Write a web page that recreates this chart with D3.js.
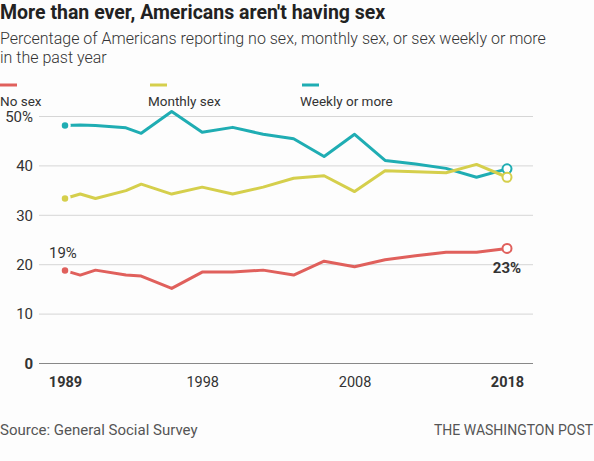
<!DOCTYPE html>
<html>
<head>
<meta charset="utf-8">
<script src="https://cdn.jsdelivr.net/npm/d3@7/dist/d3.min.js"></script>
<style>
  html, body { margin: 0; padding: 0; background: #fdfdfd; }
  svg { display: block; font-family: Roboto, "Open Sans", sans-serif; }
</style>
</head>
<body>
<svg id="chart" width="594" height="461"></svg>
<script>
const years = [1989, 1990, 1991, 1993, 1994, 1996, 1998, 2000, 2002, 2004, 2006, 2008, 2010, 2012, 2014, 2016, 2018];
const noSex   = [18.7, 17.8, 18.8, 17.8, 17.6, 15.1, 18.4, 18.4, 18.8, 17.8, 20.6, 19.5, 20.9, 21.7, 22.4, 22.4, 23.2];
const monthly = [33.3, 34.2, 33.3, 34.9, 36.2, 34.2, 35.6, 34.2, 35.6, 37.4, 37.9, 34.7, 38.9, 38.7, 38.5, 40.2, 37.6];
const weekly  = [48.1, 48.2, 48.1, 47.6, 46.5, 50.9, 46.7, 47.7, 46.3, 45.4, 41.8, 46.3, 41.0, 40.3, 39.4, 37.6, 39.3];
const seriesNames = ["No sex", "Monthly sex", "Weekly or more"];
const seriesColors = ["#e0605c", "#d5cf4c", "#1fadb3"];
const yTicks = [0, 10, 20, 30, 40, 50];
const xTicks = [1989, 1998, 2008, 2018];

const svg = d3.select("#chart");
const x = d3.scaleLinear().domain([1989, 2018]).range([65, 507]);
const y = d3.scaleLinear().domain([0, 50]).range([363, 116]);

// Title & subtitle
svg.append("text").attr("x", 0).attr("y", 19).attr("font-size", 19.5).attr("font-weight", 700)
  .attr("fill", "#222").text("More than ever, Americans aren't having sex");
svg.append("text").attr("x", 0).attr("y", 44).attr("font-size", 16).attr("font-weight", 300)
  .attr("fill", "#333").text("Percentage of Americans reporting no sex, monthly sex, or sex weekly or more");
svg.append("text").attr("x", 0).attr("y", 63).attr("font-size", 16).attr("font-weight", 300)
  .attr("fill", "#333").text("in the past year");

// Legend
const legendX = [0, 150, 302];
seriesNames.forEach((n, i) => {
  svg.append("line").attr("x1", legendX[i]).attr("x2", legendX[i] + 17)
    .attr("y1", 85).attr("y2", 85).attr("stroke", seriesColors[i]).attr("stroke-width", 3);
  svg.append("text").attr("x", i === 0 ? 0 : legendX[i] - 2).attr("y", 106).attr("font-size", 13.5)
    .attr("fill", "#333").text(n);
});

// Gridlines + y axis
const yAxis = d3.axisLeft(y).tickValues(yTicks).tickSize(-(533 - 39))
  .tickFormat(d => d === 50 ? "50%" : d);
const gy = svg.append("g").attr("transform", "translate(39,0)").call(yAxis);
gy.select(".domain").remove();
gy.selectAll(".tick line").attr("stroke", d => d === 0 ? "#888" : "#d6d6d6").attr("stroke-width", 1);
gy.selectAll(".tick text").attr("x", -6).attr("dy", "0.35em").attr("font-size", 15)
  .attr("font-family", "Roboto, sans-serif").attr("fill", "#333")
  .attr("font-weight", d => d === 0 ? 700 : 400);

// X axis
const xAxis = d3.axisBottom(x).tickValues(xTicks).tickSize(0).tickFormat(d3.format("d"));
const gx = svg.append("g").attr("transform", "translate(0,377)").call(xAxis);
gx.select(".domain").remove();
gx.selectAll(".tick text").attr("dy", "0.71em").attr("y", 0).attr("font-size", 14.5)
  .attr("font-family", "Roboto, sans-serif").attr("fill", "#333")
  .attr("font-weight", d => (d === 1989 || d === 2018) ? 700 : 400);

// Lines
const seriesData = [noSex, monthly, weekly];
const line = d3.line().x((d, i) => x(years[i])).y(d => y(d));
[2, 1, 0].forEach(k => {
  svg.append("path").datum(seriesData[k]).attr("d", line).attr("fill", "none")
    .attr("stroke", seriesColors[k]).attr("stroke-width", 3).attr("stroke-linejoin", "round");
});
[2, 1, 0].forEach(k => {
  const vals = seriesData[k];
  svg.append("circle").attr("cx", x(years[0])).attr("cy", y(vals[0])).attr("r", 4.5)
    .attr("fill", seriesColors[k]).attr("stroke", "#fdfdfd").attr("stroke-width", 2.5);
  svg.append("circle").attr("cx", x(years[years.length - 1])).attr("cy", y(vals[vals.length - 1])).attr("r", 4.5)
    .attr("fill", "#fff").attr("stroke", seriesColors[k]).attr("stroke-width", 2);
});

// Annotations
svg.append("text").attr("x", x(1989) - 16).attr("y", 258).attr("font-size", 15).attr("fill", "#333")
  .text(Math.round(noSex[0]) + "%");
svg.append("text").attr("x", x(2018)).attr("y", 273).attr("text-anchor", "middle").attr("font-size", 15)
  .attr("font-weight", 700).attr("fill", "#333").text(Math.round(noSex[noSex.length - 1]) + "%");

// Footer
svg.append("text").attr("x", 0).attr("y", 435).attr("font-size", 15).attr("fill", "#555")
  .text("Source: General Social Survey");
svg.append("text").attr("x", 434).attr("y", 435).attr("font-size", 14).attr("fill", "#555")
  .text("THE WASHINGTON POST");
</script>
</body>
</html>
